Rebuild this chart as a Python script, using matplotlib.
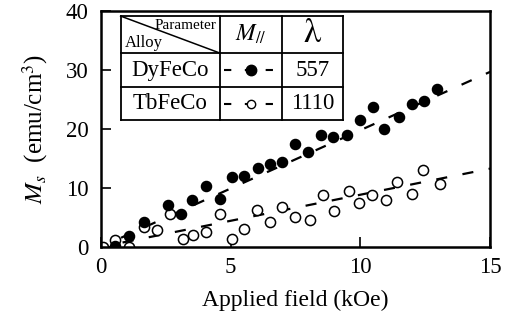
import numpy as np
import matplotlib.pyplot as plt

plt.rcParams['font.family'] = ['Liberation Serif', 'DejaVu Serif']
plt.rcParams['mathtext.fontset'] = 'stix'

# DyFeCo (filled circles)
dy_h = [0.55, 1.1, 1.65, 2.6, 3.1, 3.5, 4.05, 4.6, 5.05, 5.5, 6.05, 6.5, 7.0,
        7.5, 8.0, 8.5, 8.95, 9.5, 10.0, 10.5, 10.9, 11.5, 12.0, 12.45, 12.95]
dy_ms = [0.2, 1.9, 4.2, 7.1, 5.5, 8.0, 10.3, 8.1, 11.8, 12.1, 13.3, 14.0, 14.4,
         17.4, 16.1, 18.9, 18.7, 18.9, 21.6, 23.7, 20.0, 22.0, 24.3, 24.8, 26.8]
# TbFeCo (open circles)
tb_h = [0.1, 0.55, 1.1, 1.65, 2.15, 2.65, 3.15, 3.55, 4.05, 4.6, 5.05, 5.5,
        6.0, 6.5, 7.0, 7.5, 8.05, 8.55, 9.0, 9.55, 9.95, 10.45, 11.0, 11.4,
        12.0, 12.4, 13.05]
tb_ms = [-0.1, 1.2, -0.1, 3.4, 2.9, 5.6, 1.3, 2.0, 2.6, 5.5, 1.3, 3.0,
         6.2, 4.2, 6.8, 5.0, 4.5, 8.8, 6.1, 9.5, 7.5, 8.8, 7.9, 11.0,
         9.0, 13.1, 10.6]
# fitted slopes (emu/cm3 per kOe)
dy_slope = 1.98
tb_slope = 0.885

fig = plt.figure(figsize=(5.09, 3.27), dpi=100)
ax = fig.add_axes([0.198, 0.245, 0.765, 0.721])

hfit = np.array([0, 15])
dash = (2, (5, 7))
ax.plot(hfit, dy_slope * hfit, color='black', lw=1.6, linestyle=dash, zorder=1)
ax.plot(hfit, tb_slope * hfit, color='black', lw=1.6, linestyle=dash, zorder=1)
ax.plot(dy_h, dy_ms, 'o', color='black', ms=7.3, zorder=3)
ax.plot(tb_h, tb_ms, 'o', mfc='white', mec='black', mew=1.1, ms=7.3, zorder=2)

ax.set_xlim(0, 15)
ax.set_ylim(0, 40)
ax.set_xticks([0, 5, 10, 15])
ax.set_yticks([0, 10, 20, 30, 40])
ax.tick_params(direction='in', length=7, width=1.2, labelsize=16.5, pad=9)
ax.tick_params(axis='x', pad=7)
for s in ax.spines.values():
    s.set_linewidth(1.8)
ax.set_xlabel('Applied field (kOe)', fontsize=17, labelpad=9)
ax.set_ylabel(r'$M_{s}$  (emu/cm$^3$)', fontsize=18, labelpad=11)

# parameter table in the upper left corner
xs = [0.051, 0.306, 0.465, 0.622]
ys = [0.979, 0.822, 0.678, 0.538]
tr = ax.transAxes
ax.fill_between([xs[0], xs[-1]], ys[-1], ys[0], color='white', transform=tr, zorder=4)
for x in xs:
    ax.plot([x, x], [ys[-1], ys[0]], color='black', lw=1.3, transform=tr, zorder=5)
for y in ys:
    ax.plot([xs[0], xs[-1]], [y, y], color='black', lw=1.3, transform=tr, zorder=5)
ax.plot([xs[0], xs[1]], [ys[0], ys[1]], color='black', lw=1.1, transform=tr, zorder=5)
ax.text(xs[1] - 0.008, ys[0] - 0.012, 'Parameter', fontsize=11, ha='right', va='top',
        transform=tr, zorder=6)
ax.text(xs[0] + 0.01, ys[1] + 0.01, 'Alloy', fontsize=12, ha='left', va='bottom',
        transform=tr, zorder=6)
ax.text((xs[1] + xs[2]) / 2, (ys[0] + ys[1]) / 2, r'$M_{//}$', fontsize=17,
        ha='center', va='center', transform=tr, zorder=6)
ax.text((xs[2] + xs[3]) / 2, (ys[0] + ys[1]) / 2 + 0.005, r'$\mathrm{\lambda}$', fontsize=25,
        ha='center', va='center', transform=tr, zorder=6)

alloys = ['DyFeCo', 'TbFeCo']
lambdas = ['557', '1110']
for i, (name, lam) in enumerate(zip(alloys, lambdas)):
    yc = (ys[i + 1] + ys[i + 2]) / 2
    ax.text((xs[0] + xs[1]) / 2, yc, name, fontsize=16.5, ha='center', va='center',
            transform=tr, zorder=6)
    ax.text((xs[2] + xs[3]) / 2, yc, lam, fontsize=16.5, ha='center', va='center',
            transform=tr, zorder=6)
    xc = (xs[1] + xs[2]) / 2
    ax.plot([xs[1] + 0.01, xs[2] - 0.01], [yc, yc], color='black', lw=1.5,
            linestyle=(0, (3.5, 6.5)), transform=tr, zorder=6)
    if i == 0:
        ax.plot([xc], [yc], 'o', color='black', ms=7.5, transform=tr, zorder=7)
    else:
        ax.plot([xc], [yc], 'o', mfc='white', mec='black', mew=1.0, ms=6,
                transform=tr, zorder=7)

fig.savefig('out.png', dpi=100)
